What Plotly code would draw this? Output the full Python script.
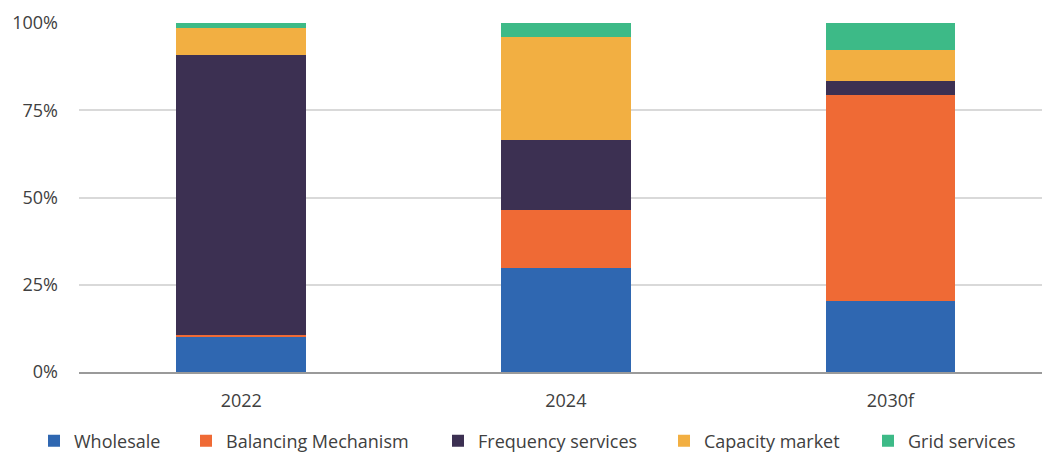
import plotly.graph_objects as go

# Revenue mix by year (share of total, %)
years = ["2022", "2024", "2030f"]
wholesale = [9.9, 29.7, 20.3]
balancing_mechanism = [0.6, 16.8, 59.0]
frequency_services = [80.4, 19.9, 4.0]
capacity_market = [7.6, 29.6, 8.9]
grid_services = [1.5, 4.0, 7.8]

y_ticks = [0, 25, 50, 75, 100]

series = [
    ("Wholesale", wholesale, "#2F67B1"),
    ("Balancing Mechanism", balancing_mechanism, "#EF6A35"),
    ("Frequency services", frequency_services, "#3C3052"),
    ("Capacity market", capacity_market, "#F2AF42"),
    ("Grid services", grid_services, "#3DBA87"),
]

FONT = "Open Sans, Noto Sans, sans-serif"
TEXT = "#404040"

# figure geometry (px)
W, H = 1042, 454
ML, MR, MT, MB = 79, 0, 23, 82

# legend entry left edges (px) and vertical centre, in container space
legend_px = [34, 186, 438, 664, 868]
legend_y_px = 441

fig = go.Figure()
for i, (name, vals, color) in enumerate(series):
    lg = "legend" if i == 0 else f"legend{i + 1}"
    fig.add_trace(go.Bar(
        x=years, y=vals, name=name, legend=lg,
        marker=dict(color=color, line=dict(width=0)),
        width=0.4,
    ))

layout_legends = {}
for i, px in enumerate(legend_px):
    key = "legend" if i == 0 else f"legend{i + 1}"
    layout_legends[key] = dict(
        xref="container", yref="container",
        x=px / W, xanchor="left",
        y=(H - legend_y_px) / H, yanchor="middle",
        orientation="h",
        font=dict(family=FONT, size=18, color=TEXT),
        bgcolor="rgba(0,0,0,0)", borderwidth=0,
        itemclick=False,
    )

fig.update_layout(
    width=W, height=H,
    margin=dict(l=ML, r=MR, t=MT, b=MB, pad=0, autoexpand=False),
    barmode="stack",
    plot_bgcolor="white", paper_bgcolor="white",
    font=dict(family=FONT, size=18, color=TEXT),
    showlegend=True,
    **layout_legends,
)

fig.update_xaxes(
    range=[-0.5, 2.467],
    showgrid=False, showline=True, linecolor="#9a9a9a", linewidth=1.5,
    ticks="", ticklabelstandoff=12,
    tickfont=dict(family=FONT, size=18, color=TEXT),
)
fig.update_yaxes(
    range=[0, 100],
    tickvals=y_ticks, ticktext=[f"{v}%" for v in y_ticks],
    showgrid=True, gridcolor="#d9d9d9", gridwidth=1.5,
    zeroline=False, showline=False, ticks="",
    ticklabelstandoff=20,
    tickfont=dict(family=FONT, size=18, color=TEXT),
)

fig.write_html("out.html")
